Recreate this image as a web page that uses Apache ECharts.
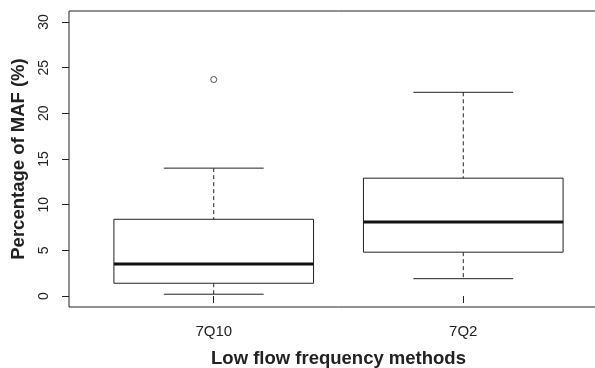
<!DOCTYPE html>
<html>
<head>
<meta charset="utf-8">
<script src="https://cdn.jsdelivr.net/npm/echarts@6/dist/echarts.min.js"></script>
<style>
  html, body { margin: 0; padding: 0; background: #fff; overflow: hidden; }
  /* the plot frame runs past the right edge of the picture, so the canvas is wider than the window */
  #chart { width: 612px; height: 368px; }
</style>
</head>
<body>
<div id="chart"></div>
<script>
const categories = ['7Q10', '7Q2'];
// lower whisker, Q1, median, Q3, upper whisker
const boxStats = [
  [0.2, 1.4, 3.5, 8.4, 14.0],
  [1.9, 4.8, 8.1, 12.9, 22.3]
];
// [category position, value]
const outliers = [[1, 23.7]];
const yTicks = [0, 5, 10, 15, 20, 25, 30];
const xTicks = [1, 2];

const ink = '#222';
const font = '"Liberation Sans", Arial, Helvetica, sans-serif';

function renderBox(params, api) {
  const x = api.value(0);
  const lo = api.coord([x, api.value(1)]);
  const q1 = api.coord([x, api.value(2)]);
  const med = api.coord([x, api.value(3)]);
  const q3 = api.coord([x, api.value(4)]);
  const hi = api.coord([x, api.value(5)]);
  const halfBox = api.size([0.4, 0])[0];
  const halfCap = api.size([0.2, 0])[0];
  const cx = lo[0];
  const solid = { stroke: ink, lineWidth: 1 };
  const dashed = { stroke: ink, lineWidth: 1, lineDash: [4, 3] };
  return {
    type: 'group',
    children: [
      { type: 'line', shape: { x1: cx, y1: hi[1], x2: cx, y2: q3[1] }, style: dashed },
      { type: 'line', shape: { x1: cx, y1: q1[1], x2: cx, y2: lo[1] }, style: dashed },
      { type: 'line', shape: { x1: cx - halfCap, y1: hi[1], x2: cx + halfCap, y2: hi[1] }, style: solid },
      { type: 'line', shape: { x1: cx - halfCap, y1: lo[1], x2: cx + halfCap, y2: lo[1] }, style: solid },
      {
        type: 'rect',
        shape: { x: cx - halfBox, y: q3[1], width: halfBox * 2, height: q1[1] - q3[1] },
        style: { fill: '#fff', stroke: ink, lineWidth: 1 }
      },
      { type: 'line', shape: { x1: cx - halfBox, y1: med[1], x2: cx + halfBox, y2: med[1] }, style: { stroke: '#111', lineWidth: 3 } }
    ]
  };
}

const chart = echarts.init(document.getElementById('chart'), null, { renderer: 'canvas' });

chart.setOption({
  animation: false,
  backgroundColor: '#fff',
  grid: {
    left: 69, top: 11, right: 4, bottom: 61,
    outerBoundsMode: 'none',
    containLabel: false,
    show: true, borderColor: ink, borderWidth: 1, backgroundColor: 'transparent'
  },
  xAxis: {
    type: 'value',
    min: 0.42,
    max: 2.58,
    splitLine: { show: false },
    axisLine: { show: false },
    axisTick: { show: true, customValues: xTicks, length: 7, lineStyle: { color: ink } },
    axisLabel: {
      customValues: xTicks,
      formatter: v => categories[Math.round(v) - 1],
      fontSize: 15, margin: 17, color: ink, fontFamily: font
    },
    name: 'Low flow frequency methods',
    nameLocation: 'middle',
    nameGap: 42,
    nameTextStyle: { fontSize: 18.5, fontWeight: 'bold', color: ink, fontFamily: font }
  },
  yAxis: {
    type: 'value',
    min: -1.2,
    max: 31.2,
    splitLine: { show: false },
    axisLine: { show: false },
    axisTick: { show: true, customValues: yTicks, length: 7, lineStyle: { color: ink } },
    axisLabel: {
      customValues: yTicks,
      rotate: 90,
      fontSize: 14, margin: 18, color: ink, fontFamily: font
    },
    name: 'Percentage of MAF (%)',
    nameLocation: 'middle',
    nameGap: 41,
    nameTextStyle: { fontSize: 18.5, fontWeight: 'bold', color: ink, fontFamily: font }
  },
  series: [
    {
      type: 'custom',
      renderItem: renderBox,
      encode: { x: 0, y: [1, 2, 3, 4, 5] },
      data: boxStats.map((s, i) => [xTicks[i]].concat(s))
    },
    {
      type: 'scatter',
      symbol: 'circle',
      symbolSize: 6,
      itemStyle: { color: '#fff', borderColor: ink, borderWidth: 1 },
      data: outliers
    }
  ]
});
</script>
</body>
</html>
